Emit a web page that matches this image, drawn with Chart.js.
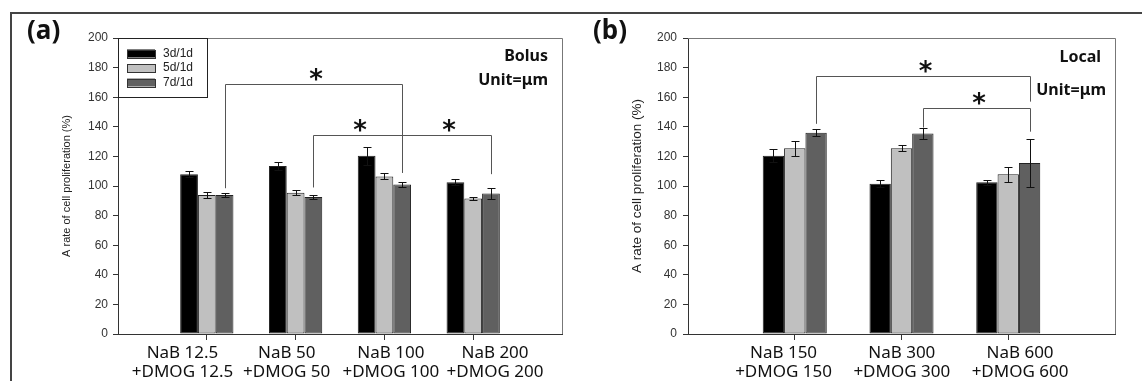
<!DOCTYPE html>
<html>
<head>
<meta charset="utf-8">
<script src="https://cdn.jsdelivr.net/npm/chart.js@4.4.1/dist/chart.umd.min.js"></script>
<style>
  html, body { margin: 0; padding: 0; background: #fff; }
  body { width: 1142px; height: 381px; position: relative; overflow: hidden; }
  .frame { position: absolute; left: 10px; top: 12px; width: 1140px; height: 380px;
           border-top: 2px solid #444; border-left: 2px solid #444; }
  #wrapA { position: absolute; left: 0; top: 0; width: 575px; height: 381px; }
  #wrapB { position: absolute; left: 575px; top: 0; width: 567px; height: 381px; }
</style>
</head>
<body>
<div class="frame"></div>
<div id="wrapA"><canvas id="chartA" width="575" height="381"></canvas></div>
<div id="wrapB"><canvas id="chartB" width="567" height="381"></canvas></div>
<script>
// --- Datos ---
const seriesLabels = ['3d/1d', '5d/1d', '7d/1d'];
const seriesColors = ['#000000', '#c0c0c0', '#606060'];
const yTicksMax = 200;
const yTicksStep = 20;
const yTitle = 'A rate of cell proliferation (%)';

// (a) Bolus
const bolusCategories = [['NaB 12.5', '+DMOG 12.5'], ['NaB 50', '+DMOG 50'], ['NaB 100', '+DMOG 100'], ['NaB 200', '+DMOG 200']];
const bolus3d = [108, 113.5, 120.5, 102.5];
const bolus5d = [94, 95.5, 106.5, 91.5];
const bolus7d = [94, 92.5, 101, 95];
const bolus3dErr = [2, 2.5, 6, 2];
const bolus5dErr = [2, 1.5, 2, 1.2];
const bolus7dErr = [1.5, 1.5, 1.5, 3.5];
// [categoria, serie, categoria, serie, tope, base izq., base der.]
const bolusBrackets = [
  [0, 2, 2, 2, 169, 98.5, 108.8],
  [1, 2, 2, 2, 134.5, 99, 109.7],
  [2, 2, 3, 2, 134.5, 109.7, 108]
];

// (b) Local
const localCategories = [['NaB 150', '+DMOG 150'], ['NaB 300', '+DMOG 300'], ['NaB 600', '+DMOG 600']];
const local3d = [120.5, 101.5, 102.5];
const local5d = [125.5, 125.5, 108];
const local7d = [136, 135.5, 115.5];
const local3dErr = [4.5, 2.5, 1.5];
const local5dErr = [5, 2, 5];
const local7dErr = [2.5, 3.5, 16];
const localBrackets = [
  [0, 2, 2, 2, 174.5, 142, 157],
  [1, 2, 2, 2, 153, 139.5, 136.7]
];

// --- Plugin: marco, barras de error, corchetes, leyenda y textos ---
const panelDecor = {
  id: 'panelDecor',
  afterDatasetsDraw(chart, args, o) {
    const ctx = chart.ctx;
    const area = chart.chartArea;
    const y = chart.scales.y;
    const px = v => Math.round(v) + 0.5;
    ctx.save();

    // marco superior y derecho
    ctx.strokeStyle = '#777';
    ctx.lineWidth = 1;
    ctx.beginPath();
    ctx.moveTo(area.left, px(area.top));
    ctx.lineTo(px(area.right), px(area.top));
    ctx.lineTo(px(area.right), area.bottom);
    ctx.stroke();

    // barras de error
    ctx.strokeStyle = '#111';
    o.errors.forEach((errs, di) => {
      const meta = chart.getDatasetMeta(di);
      const vals = chart.data.datasets[di].data;
      errs.forEach((e, i) => {
        const bar = meta.data[i + 1];
        const v = vals[i + 1];
        if (!bar || v == null) return;
        const x = px(bar.x);
        const yHi = px(y.getPixelForValue(v + e));
        const yLo = px(y.getPixelForValue(v - e));
        ctx.beginPath();
        ctx.moveTo(x, yHi); ctx.lineTo(x, yLo);
        ctx.moveTo(x - 4, yHi); ctx.lineTo(x + 4, yHi);
        ctx.moveTo(x - 4, yLo); ctx.lineTo(x + 4, yLo);
        ctx.stroke();
      });
    });

    // corchetes de significancia
    ctx.font = 'bold 26px "DejaVu Sans"';
    ctx.textAlign = 'center';
    ctx.textBaseline = 'alphabetic';
    const m = ctx.measureText('*');
    const starShift = (m.actualBoundingBoxAscent - m.actualBoundingBoxDescent) / 2;
    o.brackets.forEach(([c1, s1, c2, s2, top, b1, b2]) => {
      const x1 = px(chart.getDatasetMeta(s1).data[c1 + 1].x);
      const x2 = px(chart.getDatasetMeta(s2).data[c2 + 1].x);
      const yt = px(y.getPixelForValue(top));
      ctx.strokeStyle = '#555';
      ctx.beginPath();
      ctx.moveTo(x1, y.getPixelForValue(b1));
      ctx.lineTo(x1, yt);
      ctx.lineTo(x2, yt);
      ctx.lineTo(x2, y.getPixelForValue(b2));
      ctx.stroke();
      ctx.fillStyle = '#111';
      ctx.fillText('*', (x1 + x2) / 2 + 2, yt - 10 + starShift);
    });

    // leyenda
    if (o.legend) {
      ctx.strokeStyle = '#222';
      ctx.strokeRect(px(area.left), px(area.top), 89, 59);
      ctx.font = '12px "Liberation Sans"';
      ctx.textAlign = 'left';
      ctx.textBaseline = 'middle';
      seriesLabels.forEach((lab, i) => {
        const cy = area.top + 15.5 + i * 14.5;
        ctx.fillStyle = seriesColors[i];
        ctx.fillRect(area.left + 9, cy - 4, 28, 8);
        ctx.strokeStyle = '#333';
        ctx.strokeRect(px(area.left + 9), px(cy - 4), 28, 8);
        ctx.fillStyle = '#222';
        ctx.fillText(lab, area.left + 45, cy);
      });
    }

    // textos
    ctx.fillStyle = '#111';
    ctx.font = 'bold 16px "Noto Sans"';
    ctx.textAlign = 'right';
    ctx.textBaseline = 'middle';
    o.notes.forEach(([txt, dx, ty]) => ctx.fillText(txt, area.right - dx, ty));

    ctx.font = 'bold 26px "Noto Sans"';
    ctx.textAlign = 'left';
    ctx.fillText(o.tag, o.tagX, 32);
    ctx.restore();
  }
};

function makePanel(canvasId, cats, series, errors, brackets, cfg) {
  const labels = ['', ...cats.map(c => c.join(' ')), ''];
  const last = labels.length - 1;
  const datasets = series.map((vals, i) => ({
    label: seriesLabels[i],
    data: [null, ...vals, null],
    backgroundColor: seriesColors[i],
    borderColor: '#222',
    borderWidth: 1,
    borderSkipped: false,
    categoryPercentage: 0.6,
    barPercentage: 1.0
  }));

  return new Chart(document.getElementById(canvasId), {
    type: 'bar',
    data: { labels, datasets },
    options: {
      responsive: false,
      animation: false,
      devicePixelRatio: 1,
      layout: { padding: { left: cfg.padLeft, right: cfg.padRight, top: 38, bottom: 0 } },
      plugins: {
        legend: { display: false },
        tooltip: { enabled: false },
        panelDecor: { errors, brackets, legend: cfg.legend, notes: cfg.notes, tag: cfg.tag, tagX: cfg.tagX }
      },
      scales: {
        x: {
          type: 'category',
          weight: 0,
          offset: false,
          grid: {
            display: true, drawOnChartArea: false, drawTicks: true, tickLength: 6, offset: false,
            color: c => (c.index === 0 || c.index === last) ? 'rgba(0,0,0,0)' : '#333'
          },
          border: { display: true, color: '#333', width: 1 },
          ticks: { display: false, autoSkip: false },
          afterFit: s => { s.height = 6; }
        },
        // eje solo para las etiquetas de categoría (colocadas como en el original)
        xl: {
          type: 'linear',
          position: 'bottom',
          weight: 1,
          offset: false,
          min: cfg.labelMin,
          max: cfg.labelMax,
          afterBuildTicks: s => { s.ticks = cats.map((_, i) => ({ value: i + 1 })); },
          grid: { display: false, drawTicks: false, offset: false },
          border: { display: false },
          ticks: {
            autoSkip: false, maxRotation: 0, padding: 3, color: '#111',
            font: { family: 'Noto Sans', size: 17, lineHeight: 1.15 },
            callback: (v, i) => cats[i] || ''
          },
          afterFit: s => { s.height = 41; }
        },
        y: {
          min: 0,
          max: yTicksMax,
          ticks: { stepSize: yTicksStep, color: '#333', padding: cfg.tickPad, font: { family: 'Liberation Sans', size: 12 } },
          grid: { display: true, drawOnChartArea: false, drawTicks: true, tickLength: 5, color: '#333' },
          border: { display: true, color: '#333', width: 1 },
          title: {
            display: true, text: yTitle, color: '#222',
            font: { family: 'Liberation Sans', size: cfg.titleSize },
            padding: { top: 2, bottom: 0 }
          },
          afterFit: s => { s.width = cfg.axisWidth; }
        }
      }
    },
    plugins: [panelDecor]
  });
}

makePanel('chartA', bolusCategories, [bolus3d, bolus5d, bolus7d],
  [bolus3dErr, bolus5dErr, bolus7dErr], bolusBrackets, {
    padLeft: 58, padRight: 13, axisWidth: 60, tickPad: 5, titleSize: 11,
    labelMin: 0.381, labelMax: 4.643,
    legend: true, tag: '(a)', tagX: 27,
    notes: [['Bolus', 14, 56], ['Unit=\u03bcm', 14, 80]]
  });

makePanel('chartB', localCategories, [local3d, local5d, local7d],
  [local3dErr, local5dErr, local7dErr], localBrackets, {
    padLeft: 52, padRight: 27, axisWidth: 61, tickPad: 6, titleSize: 13.5,
    labelMin: 0.192, labelMax: 3.803,
    legend: false, tag: '(b)', tagX: 18,
    notes: [['Local', 14, 57], ['Unit=\u03bcm', 9, 90]]
  });
</script>
</body>
</html>
